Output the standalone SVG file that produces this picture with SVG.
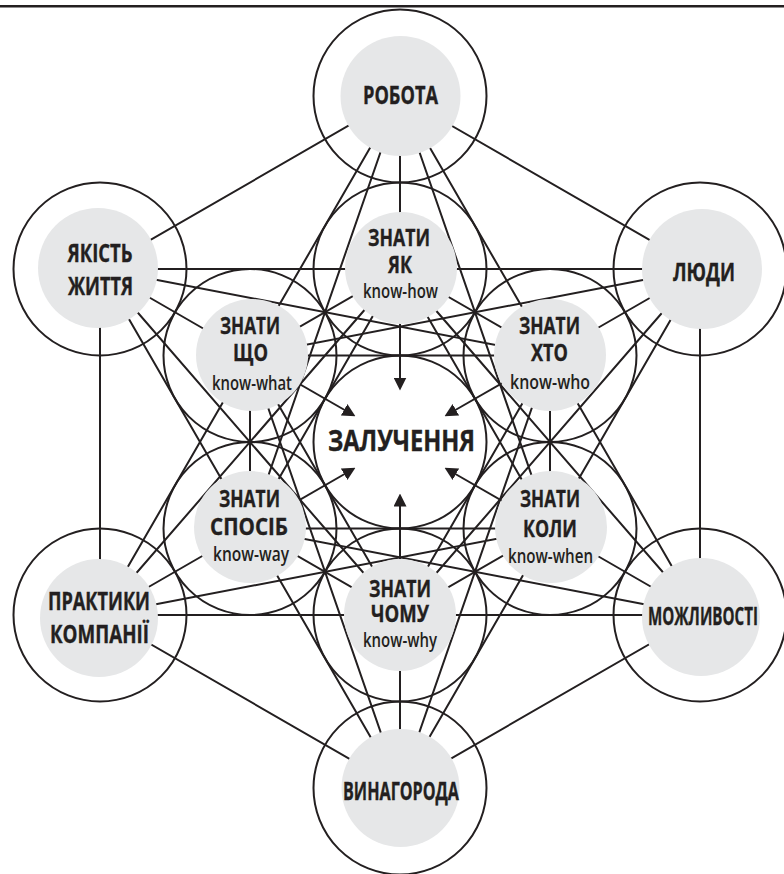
<svg xmlns="http://www.w3.org/2000/svg" width="784" height="874" viewBox="0 0 784 874">
  <style>
    .ring { fill: none; stroke: #231f20; stroke-width: 2; }
    .core { fill: #ffffff; stroke: #231f20; stroke-width: 2; }
    .disc { fill: #e6e7e8; }
    .edge { fill: none; stroke: #231f20; stroke-width: 2; }
    .arrow { fill: none; stroke: #231f20; stroke-width: 2; marker-end: url(#head); }
    text { font-family: "Open Sans", "Liberation Sans", sans-serif; fill: #231f20; text-anchor: middle; }
    .big { font-size: 25px; font-weight: 700; stroke: #231f20; stroke-width: 0.4; }
    .mid { font-size: 23px; font-weight: 700; stroke: #231f20; stroke-width: 0.35; }
    .en { font-size: 20px; font-weight: 600; }
    .title { font-size: 28px; font-weight: 700; stroke: #231f20; stroke-width: 0.4; }
  </style>
  <defs>
    <marker id="head" viewBox="0 -6.5 13 13" refX="0.5" refY="0" markerWidth="13" markerHeight="13" markerUnits="userSpaceOnUse" orient="auto">
      <path d="M0,-6.5 L13,0 L0,6.5 Z" fill="#231f20"/>
    </marker>
  </defs>

  <rect x="0" y="5" width="784" height="2.5" fill="#231f20"/>

  <!-- central node, drawn first so the arrows sit on top of it -->
  <g id="node-zaluchennia">
    <circle class="core" cx="400" cy="442" r="86.5"/>
    <text class="title" x="401.5" y="451" textLength="147" lengthAdjust="spacingAndGlyphs">ЗАЛУЧЕННЯ</text>
  </g>

  <g id="connectors">
    <!-- outer hexagon -->
    <path class="edge" d="M400,96 L700,269 L700,615 L400,788 L100,615 L100,269 Z"/>
    <!-- outer hexagram -->
    <path class="edge" d="M400,96 L700,615 L100,615 Z M700,269 L400,788 L100,269 Z"/>
    <!-- inner hexagon -->
    <path class="edge" d="M400,269 L550,355.5 L550,528.5 L400,615 L250,528.5 L250,355.5 Z"/>
    <!-- inner triangles -->
    <path class="edge" d="M400,269 L550,528.5 L250,528.5 Z M550,355.5 L400,615 L250,355.5 Z"/>
    <!-- outer to inner, two steps round -->
    <path class="edge" d="M400,96 L550,528.5 M700,269 L400,615 M700,615 L250,528.5 M400,788 L250,355.5 M100,615 L400,269 M100,269 L550,355.5"/>
    <path class="edge" d="M400,96 L250,528.5 M700,269 L250,355.5 M700,615 L400,269 M400,788 L550,355.5 M100,615 L550,528.5 M100,269 L400,615"/>
    <!-- radial spokes -->
    <path class="edge" d="M400,96 L400,269 M700,269 L550,355.5 M700,615 L550,528.5 M400,788 L400,615 M100,615 L250,528.5 M100,269 L250,355.5"/>
    <!-- arrows into the centre -->
    <line class="arrow" x1="400" y1="269" x2="400" y2="378"/>
    <line class="arrow" x1="550" y1="355.5" x2="455.4" y2="410"/>
    <line class="arrow" x1="550" y1="528.5" x2="455.4" y2="474"/>
    <line class="arrow" x1="400" y1="615" x2="400" y2="506"/>
    <line class="arrow" x1="250" y1="528.5" x2="344.6" y2="474"/>
    <line class="arrow" x1="250" y1="355.5" x2="344.6" y2="410"/>
  </g>

  <!-- outer ring -->
  <g id="node-robota">
    <circle class="ring" cx="400" cy="96" r="86.5"/>
    <circle class="disc" cx="400.5" cy="96" r="60"/>
    <text class="big" x="400.5" y="104" textLength="75" lengthAdjust="spacingAndGlyphs">РОБОТА</text>
  </g>
  <g id="node-liudy">
    <circle class="ring" cx="700" cy="269" r="86.5"/>
    <circle class="disc" cx="702" cy="269" r="60"/>
    <text class="big" x="704" y="281" textLength="62" lengthAdjust="spacingAndGlyphs">ЛЮДИ</text>
  </g>
  <g id="node-mozhlyvosti">
    <circle class="ring" cx="700" cy="615" r="86.5"/>
    <circle class="disc" cx="701" cy="617" r="59"/>
    <text class="big" x="703" y="625" textLength="110" lengthAdjust="spacingAndGlyphs">МОЖЛИВОСТІ</text>
  </g>
  <g id="node-vynahoroda">
    <circle class="ring" cx="400" cy="788" r="86.5"/>
    <circle class="disc" cx="400.5" cy="788" r="59"/>
    <text class="big" x="401" y="800" textLength="116" lengthAdjust="spacingAndGlyphs">ВИНАГОРОДА</text>
  </g>
  <g id="node-praktyky">
    <circle class="ring" cx="100" cy="615" r="86.5"/>
    <circle class="disc" cx="99" cy="618" r="59"/>
    <text class="big" x="99" y="610" textLength="102" lengthAdjust="spacingAndGlyphs">ПРАКТИКИ</text>
    <text class="big" x="99.5" y="643" textLength="99" lengthAdjust="spacingAndGlyphs">КОМПАНІЇ</text>
  </g>
  <g id="node-yakist">
    <circle class="ring" cx="100" cy="269" r="86.5"/>
    <circle class="disc" cx="98" cy="268" r="60"/>
    <text class="big" x="100" y="262" textLength="65" lengthAdjust="spacingAndGlyphs">ЯКІСТЬ</text>
    <text class="big" x="100.5" y="295" textLength="65" lengthAdjust="spacingAndGlyphs">ЖИТТЯ</text>
  </g>

  <!-- inner ring -->
  <g id="node-znaty-yak">
    <circle class="ring" cx="400" cy="269" r="86.5"/>
    <circle class="disc" cx="401" cy="268" r="56"/>
    <text class="mid" x="399" y="246" textLength="62" lengthAdjust="spacingAndGlyphs">ЗНАТИ</text>
    <text class="mid" x="400" y="273" textLength="24" lengthAdjust="spacingAndGlyphs">ЯК</text>
    <text class="en" x="400.5" y="298" textLength="75" lengthAdjust="spacingAndGlyphs">know-how</text>
  </g>
  <g id="node-znaty-khto">
    <circle class="ring" cx="550" cy="355.5" r="86.5"/>
    <circle class="disc" cx="550" cy="355" r="56"/>
    <text class="mid" x="549.5" y="334" textLength="61" lengthAdjust="spacingAndGlyphs">ЗНАТИ</text>
    <text class="mid" x="549.5" y="361" textLength="37" lengthAdjust="spacingAndGlyphs">ХТО</text>
    <text class="en" x="550" y="389" textLength="80" lengthAdjust="spacingAndGlyphs">know-who</text>
  </g>
  <g id="node-znaty-koly">
    <circle class="ring" cx="550" cy="528.5" r="86.5"/>
    <circle class="disc" cx="551" cy="527" r="56"/>
    <text class="mid" x="550" y="507" textLength="60" lengthAdjust="spacingAndGlyphs">ЗНАТИ</text>
    <text class="mid" x="550" y="537" textLength="54" lengthAdjust="spacingAndGlyphs">КОЛИ</text>
    <text class="en" x="550.5" y="563" textLength="85" lengthAdjust="spacingAndGlyphs">know-when</text>
  </g>
  <g id="node-znaty-chomu">
    <circle class="ring" cx="400" cy="615" r="86.5"/>
    <circle class="disc" cx="400" cy="615" r="56"/>
    <text class="mid" x="400" y="597" textLength="62" lengthAdjust="spacingAndGlyphs">ЗНАТИ</text>
    <text class="mid" x="400" y="622" textLength="58" lengthAdjust="spacingAndGlyphs">ЧОМУ</text>
    <text class="en" x="400" y="647" textLength="74" lengthAdjust="spacingAndGlyphs">know-why</text>
  </g>
  <g id="node-znaty-sposib">
    <circle class="ring" cx="250" cy="528.5" r="86.5"/>
    <circle class="disc" cx="250" cy="527" r="56"/>
    <text class="mid" x="249.5" y="507" textLength="61" lengthAdjust="spacingAndGlyphs">ЗНАТИ</text>
    <text class="mid" x="249" y="535" textLength="78" lengthAdjust="spacingAndGlyphs">СПОСІБ</text>
    <text class="en" x="251" y="561" textLength="76" lengthAdjust="spacingAndGlyphs">know-way</text>
  </g>
  <g id="node-znaty-shcho">
    <circle class="ring" cx="250" cy="355.5" r="86.5"/>
    <circle class="disc" cx="252" cy="355" r="56"/>
    <text class="mid" x="250" y="334" textLength="60" lengthAdjust="spacingAndGlyphs">ЗНАТИ</text>
    <text class="mid" x="250.5" y="361" textLength="35" lengthAdjust="spacingAndGlyphs">ЩО</text>
    <text class="en" x="252" y="390" textLength="80" lengthAdjust="spacingAndGlyphs">know-what</text>
  </g>
</svg>
